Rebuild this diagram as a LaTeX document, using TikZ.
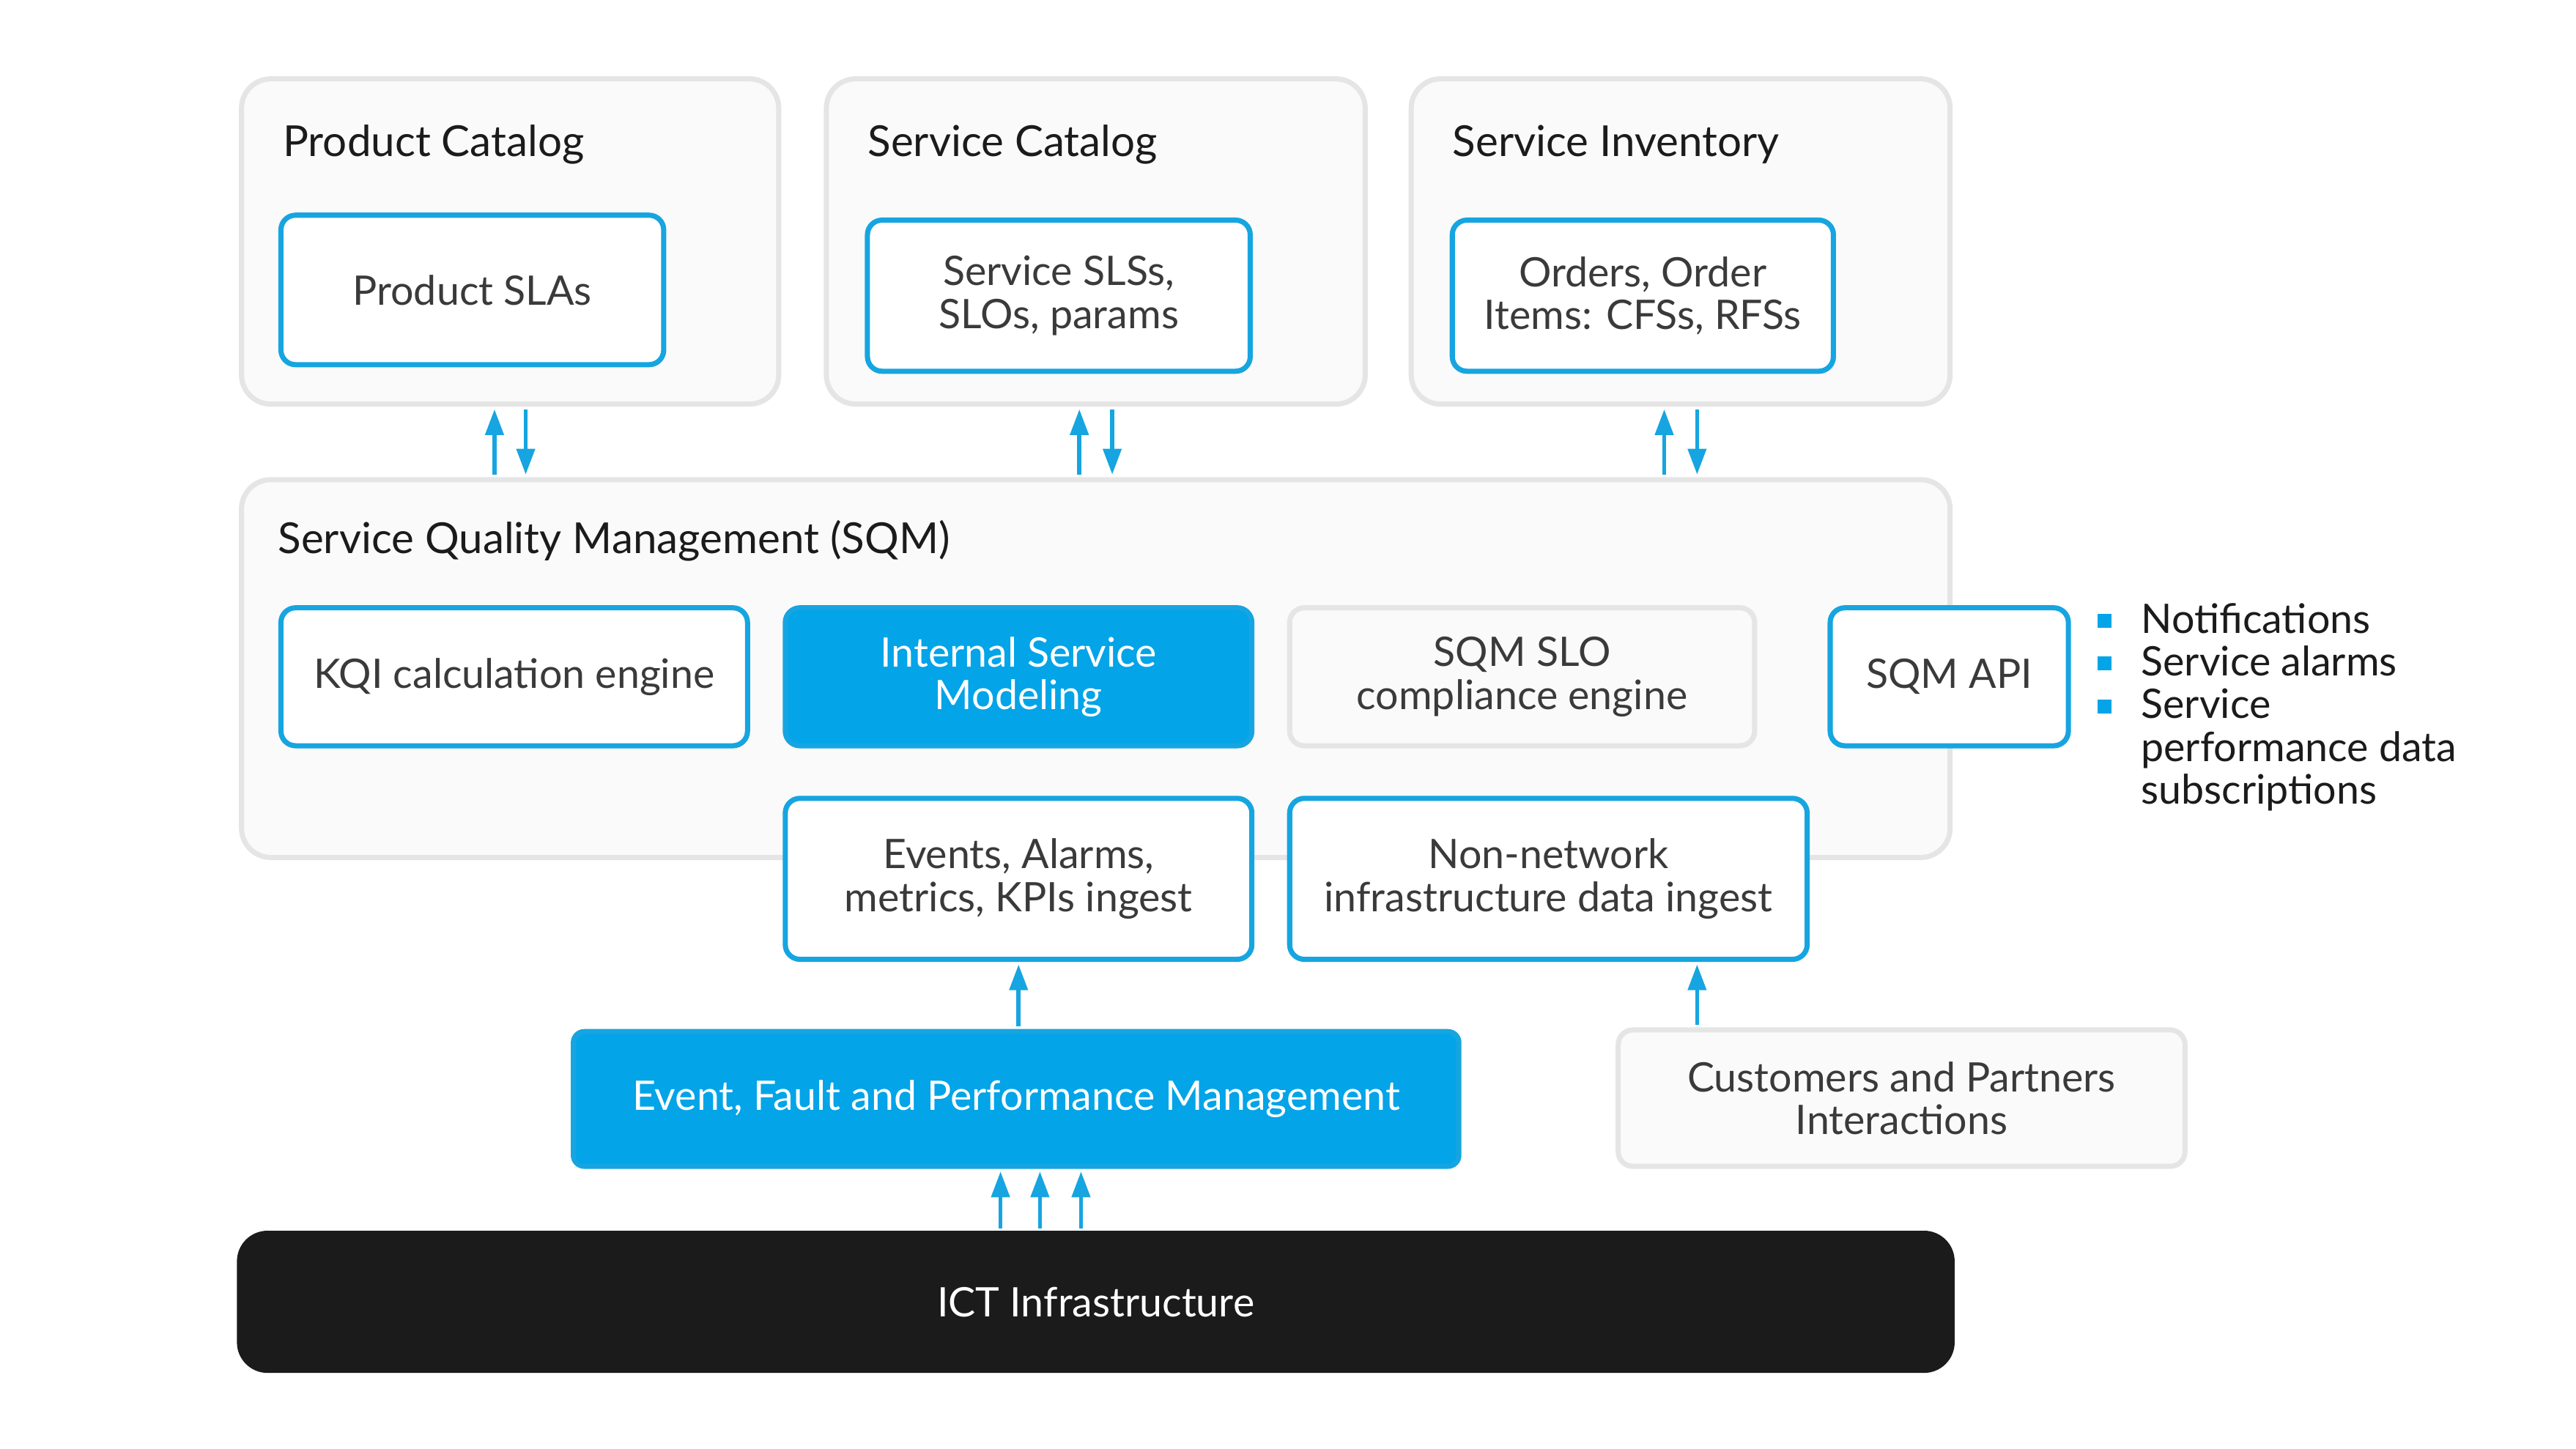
\documentclass[tikz,border=0pt]{standalone}
\usepackage{fontspec}
\setmainfont{Lato}
\usetikzlibrary{arrows.meta}
\definecolor{sblue}{HTML}{16A5E0}
\definecolor{fblue}{HTML}{03A4E8}
\definecolor{gborder}{HTML}{E5E5E5}
\definecolor{gfill}{HTML}{FAFAFA}
\definecolor{txt}{HTML}{3A3A3A}
\definecolor{ink}{HTML}{1B1B1B}
\newcommand\bx[7]{\node[#1, minimum width={(#5-#3)*0.022423cm}, minimum height={(#6-#4)*0.022423cm}] (#2) at ({(#3+#5)/2},{(#4+#6)/2}) {#7};}
\begin{document}
\begin{tikzpicture}[x=0.022423cm,y=-0.022423cm,
  font=\fontsize{15.8}{16.6}\selectfont,
  group/.style={draw=gborder, fill=gfill, line width=2pt, rounded corners=0.4cm, inner sep=0pt},
  graybox/.style={draw=gborder, fill=gfill, line width=2pt, rounded corners=0.2cm, inner sep=0pt, text=txt, align=center},
  bluebox/.style={draw=sblue, fill=white, line width=2pt, rounded corners=0.2cm, inner sep=0pt, text=txt, align=center},
  filledbox/.style={draw=sblue, fill=fblue, line width=2pt, rounded corners=0.2cm, inner sep=0pt, text=white, align=center},
  darkbox/.style={fill=ink, draw=ink, line width=1pt, rounded corners=0.4cm, inner sep=0pt, text=white},
  title/.style={anchor=west, inner sep=0pt, text=ink, font=\fontsize{16.6}{18}\selectfont},
  arr/.style={draw=sblue, line width=1.6pt, -{Triangle[length=10pt,width=7pt]}, shorten >=1pt, shorten <=1pt},
  bullet/.style={fill=fblue, minimum size=0.19cm, inner sep=0pt},
  btext/.style={anchor=north west, inner sep=0pt, text=ink, align=left}]
\fill[white] (0,0) rectangle (1568,882);
\useasboundingbox (0,0) rectangle (1568,882);
% top groups
\bx{group}{pc}{147}{48}{474}{246}{}
\node[title] (pct) at (172,88) {Product Catalog};
\bx{bluebox}{psla}{171}{131}{404}{222}{Product SLAs}
\bx{group}{sc}{503}{48}{831}{246}{}
\node[title] (sct) at (528,88) {Service Catalog};
\bx{bluebox}{ssl}{528}{134}{761}{226}{Service SLSs,\\SLOs, params}
\bx{group}{si}{859}{48}{1187}{246}{}
\node[title] (sit) at (884,88) {Service Inventory};
\bx{bluebox}{ord}{884}{134}{1116}{226}{Orders, Order\\Items: CFSs, RFSs}
% SQM
\bx{group}{sqm}{147}{292}{1187}{522}{}
\node[title] (sqmt) at (169,329) {Service Quality Management (SQM)};
\bx{bluebox}{kqi}{171}{370}{455}{454}{KQI calculation engine}
\bx{filledbox}{ism}{478}{370}{762}{454}{Internal Service\\Modeling}
\bx{graybox}{slo}{785}{370}{1068}{454}{SQM SLO\\compliance engine}
\bx{bluebox}{api}{1114}{370}{1259}{454}{SQM API}
\bx{bluebox}{ev}{478}{486}{762}{584}{Events, Alarms,\\metrics, KPIs ingest}
\bx{bluebox}{nn}{785}{486}{1100}{584}{Non-network\\infrastructure data ingest}
% bullets
\node[bullet] (b1) at (1281,378) {};
\node[bullet] (b2) at (1281,404) {};
\node[bullet] (b3) at (1281,430) {};
\node[btext] (t1) at (1303,367) {Notifications};
\node[btext] (t2) at (1303,393) {Service alarms};
\node[btext] (t3) at (1303,419) {Service\\performance data\\subscriptions};
% lower
\bx{filledbox, rounded corners=0.15cm}{efpm}{349}{628}{888}{710}{Event, Fault and Performance Management}
\bx{graybox}{cpi}{985}{627}{1330}{710}{Customers and Partners\\Interactions}
\bx{darkbox}{ict}{145}{750}{1189}{835}{ICT Infrastructure}
% arrows
\draw[arr] (301,0 |- sqm.north) -- (301,0 |- pc.south);
\draw[arr] (320,0 |- pc.south) -- (320,0 |- sqm.north);
\draw[arr] (657,0 |- sqm.north) -- (657,0 |- sc.south);
\draw[arr] (677,0 |- sc.south) -- (677,0 |- sqm.north);
\draw[arr] (1013,0 |- sqm.north) -- (1013,0 |- si.south);
\draw[arr] (1033,0 |- si.south) -- (1033,0 |- sqm.north);
\draw[arr] (620,0 |- efpm.north) -- (620,0 |- ev.south);
\draw[arr] (1033,0 |- cpi.north) -- (1033,0 |- nn.south);
\draw[arr] (609,0 |- ict.north) -- (609,0 |- efpm.south);
\draw[arr] (633,0 |- ict.north) -- (633,0 |- efpm.south);
\draw[arr] (658,0 |- ict.north) -- (658,0 |- efpm.south);
\end{tikzpicture}
\end{document}
